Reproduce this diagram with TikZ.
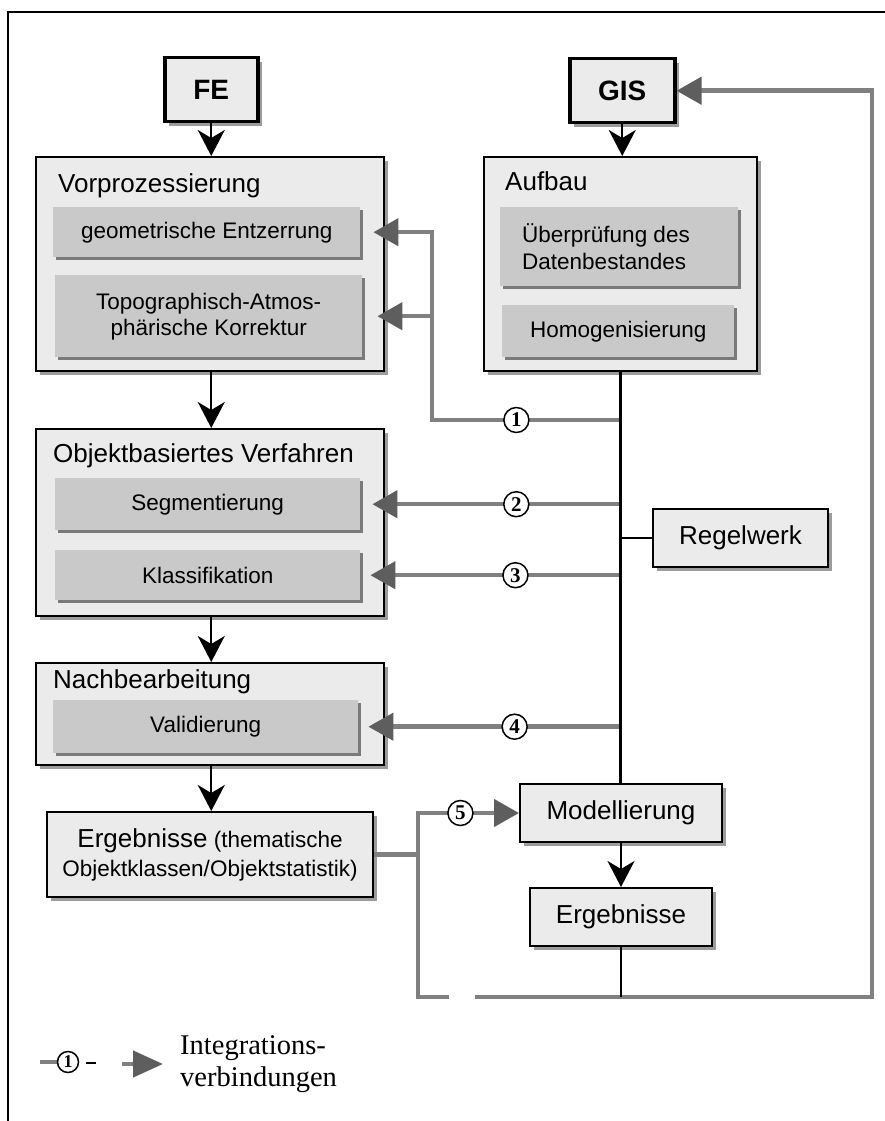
\documentclass[tikz,border=0pt]{standalone}
\usepackage{fontspec}
\setmainfont{Liberation Sans}
\newfontfamily\serifnum{Liberation Serif}
\usetikzlibrary{arrows.meta,shadows,calc}
\definecolor{boxfill}{HTML}{EBEBEB}
\definecolor{subfill}{HTML}{C9C9C9}
\definecolor{subshadow}{HTML}{7A7A7A}
\definecolor{mainshadow}{HTML}{9C9C9C}
\definecolor{lgray}{HTML}{808080}
\definecolor{agray}{HTML}{5E5E5E}
\tikzset{
  mainbox/.style={draw=black, line width=2pt, fill=boxfill, anchor=north west, inner sep=0pt,
    drop shadow={shadow xshift=4pt, shadow yshift=-4pt, fill=mainshadow, opacity=1}},
  srcbox/.style={mainbox, line width=3.5pt, font=\bfseries\fontsize{28}{28}\selectfont},
  subbox/.style={draw=none, fill=subfill, anchor=north west, inner sep=0pt,
    drop shadow={shadow xshift=3pt, shadow yshift=-3pt, fill=subshadow, opacity=1}},
  headtxt/.style={anchor=base west, inner sep=0pt, font=\fontsize{26}{30}\selectfont},
  subtxt/.style={inner sep=0pt, align=center, font=\fontsize{22.5}{26}\selectfont},
  bigtxt/.style={inner sep=0pt, align=center, font=\fontsize{26}{30}\selectfont},
  bline/.style={draw=black, line width=2.2pt},
  barrow/.style={bline, -{Stealth[length=26pt,width=27pt,inset=8pt]}},
  gline/.style={draw=lgray, line width=4.5pt},
  garrow/.style={gline, -{Triangle[length=25pt,width=27pt,color=agray]}},
  num/.style={circle, draw=black, line width=1.5pt, fill=white, minimum size=25pt, inner sep=0pt,
    font=\serifnum\bfseries\fontsize{21}{21}\selectfont},
}
\begin{document}
\begin{tikzpicture}[x=1pt,y=-1pt]
\useasboundingbox (0,0) rectangle (885,1121);
% frame
\draw[line width=2pt] (8,1121) -- (8,12) -- (885,12);

% source boxes
\node[srcbox, minimum width=93pt, minimum height=64pt] (fe) at (163,56) {};
\node[font=\bfseries\fontsize{28}{28}\selectfont] (fet) at (fe.center) {FE};
\node[srcbox, minimum width=105pt, minimum height=64pt] (gis) at (568,57) {};
\node[font=\bfseries\fontsize{28}{28}\selectfont] (gist) at (gis.center) {GIS};

% main boxes
\node[mainbox, minimum width=348pt, minimum height=214pt] (vor) at (35,156) {};
\node[headtxt] (vort) at (58,192) {Vorprozessierung};
\node[subbox, minimum width=307pt, minimum height=50pt] (geo) at (53,207) {};
\node[subtxt] (geot) at (geo.center) {geometrische Entzerrung};
\node[subbox, minimum width=307pt, minimum height=82pt] (topo) at (55,275) {};
\node[subtxt] (topot) at (topo.center) {Topographisch-Atmos-\\phärische Korrektur};

\node[mainbox, minimum width=273pt, minimum height=214pt] (auf) at (483,156) {};
\node[headtxt] (auft) at (505,190) {Aufbau};
\node[subbox, minimum width=238pt, minimum height=79pt] (ueb) at (500,207) {};
\node[subtxt, align=left, anchor=west, font=\fontsize{22.5}{27}\selectfont] (uebt) at ($(ueb.west)+(22,0)$) {Überprüfung des\\Datenbestandes};
\node[subbox, minimum width=232pt, minimum height=52pt] (hom) at (502,305) {};
\node[subtxt] (homt) at (hom.center) {Homogenisierung};

\node[mainbox, minimum width=348pt, minimum height=187pt] (obj) at (35,428) {};
\node[headtxt] (objt) at (53,462) {Objektbasiertes Verfahren};
\node[subbox, minimum width=305pt, minimum height=52pt] (seg) at (55,478) {};
\node[subtxt] (segt) at (seg.center) {Segmentierung};
\node[subbox, minimum width=305pt, minimum height=50pt] (kla) at (55,550) {};
\node[subtxt] (klat) at (kla.center) {Klassifikation};

\node[mainbox, minimum width=348pt, minimum height=102pt] (nach) at (35,662) {};
\node[headtxt] (nacht) at (53,688) {Nachbearbeitung};
\node[subbox, minimum width=305pt, minimum height=53pt] (val) at (53,700) {};
\node[subtxt] (valt) at (val.center) {Validierung};

\node[mainbox, minimum width=326pt, minimum height=85pt] (erg1) at (46,811) {};
\node[subtxt, font=\fontsize{22.5}{29}\selectfont] (erg1t) at (erg1.center)
  {{\fontsize{26}{29}\selectfont Ergebnisse} (thematische\\Objektklassen/Objektstatistik)};

\node[mainbox, minimum width=175pt, minimum height=58pt] (reg) at (652,508) {};
\node[bigtxt] (regt) at (reg.center) {Regelwerk};
\node[mainbox, minimum width=202pt, minimum height=58pt] (mod) at (519,783) {};
\node[bigtxt] (modt) at (mod.center) {Modellierung};
\node[mainbox, minimum width=182pt, minimum height=58pt] (erg2) at (529,887) {};
\node[bigtxt] (erg2t) at (erg2.center) {Ergebnisse};

% junction coordinates
\coordinate (j1) at (619.5,420);
\coordinate (k1) at (432,420);
\coordinate (j2) at (auf.south |- seg.east);
\coordinate (j3) at (auf.south |- kla.east);
\coordinate (j4) at (auf.south |- val.east);
\coordinate (lb) at (418,997);
\coordinate (gapl) at (449,997);
\coordinate (gapr) at (475,997);
\coordinate (rb) at (872,997);

% gray integration connectors
\draw[garrow] (j1) -- node[num, pos=0.55] (n1) {1} (k1) |- ($(geo.east)+(13,0)$);
\draw[garrow] (k1 |- topo.east) -- ($(topo.east)+(15,0)$);
\draw[garrow] (j2) -- node[num, pos=0.42] (n2) {2} ($(seg.east)+(12,0)$);
\draw[garrow] (j3) -- node[num, pos=0.42] (n3) {3} ($(kla.east)+(10,0)$);
\draw[garrow] (j4) -- node[num, pos=0.42] (n4) {4} ($(val.east)+(10,0)$);
\draw[gline] (erg1.east) -- (erg1.east -| lb);
\draw[garrow] (gapl) -- (lb) |- node[num, pos=0.71] (n5) {5} (mod.west);
\draw[garrow] (gapr) -- (rb) |- (gis.east);

% black flow
\draw[barrow] (fe.south) -- (fe.south |- vor.north);
\draw[barrow] (gis.south) -- (gis.south |- auf.north);
\draw[barrow] (vor.south -| fe.south) -- (obj.north -| fe.south);
\draw[barrow] (obj.south -| fe.south) -- (nach.north -| fe.south);
\draw[barrow] (nach.south -| fe.south) -- (erg1.north -| fe.south);
\draw[bline] (auf.south) -- (auf.south |- mod.north);
\draw[bline] (reg.west) -- (reg.west -| auf.south);
\draw[barrow] (mod.south) -- (mod.south |- erg2.north);
\draw[bline] (erg2.south) -- (erg2.south |- lb);

% legend
\draw[gline] (40,1062) -- (57,1062);
\node[num, minimum size=21pt, font=\serifnum\bfseries\fontsize{18}{18}\selectfont] (ln) at (68,1062) {1};
\draw[line width=2.5pt] (86,1063) -- (96,1063);
\draw[gline, -{Triangle[length=30pt,width=26pt,color=agray]}] (122,1064) -- (163,1064);
\node[anchor=base west, inner sep=0pt, align=left, font=\fontsize{28.5}{32}\selectfont] (lt) at (180,1086)
  {\serifnum Integrations-\\\serifnum verbindungen};
\end{tikzpicture}
\end{document}
